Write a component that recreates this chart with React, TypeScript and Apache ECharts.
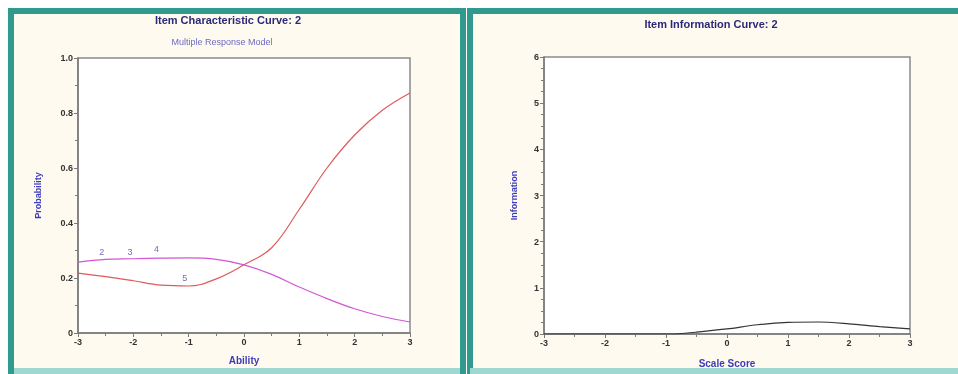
import React, { useEffect, useRef } from "react";
import * as echarts from "echarts";

const abilityX = [-3, -2.5, -2, -1.5, -1, -0.5, 0, 0.5, 1, 1.5, 2, 2.5, 3];
const redCurve = [0.218, 0.205, 0.19, 0.174, 0.171, 0.197, 0.248, 0.31, 0.45, 0.6, 0.72, 0.81, 0.873];
const magentaCurve = [0.258, 0.268, 0.27, 0.272, 0.273, 0.268, 0.248, 0.213, 0.167, 0.125, 0.088, 0.06, 0.04];
const curveLabels = [
  { name: "2", x: -2.57, y: 0.295 },
  { name: "3", x: -2.06, y: 0.295 },
  { name: "4", x: -1.58, y: 0.305 },
  { name: "5", x: -1.07, y: 0.2 },
];
const scoreX = [-3, -2.5, -2, -1.5, -1, -0.8, -0.5, 0, 0.5, 1, 1.5, 2, 2.5, 3];
const infoCurve = [0, 0, 0, 0, 0, 0.005, 0.04, 0.11, 0.2, 0.25, 0.26, 0.22, 0.16, 0.11];

const TEAL = "#2f9a8d";
const CREAM = "#fffaf0";
const AXIS = "#7a7a7a";
const LABEL = "#333333";

export default function App() {
  const ref = useRef<HTMLDivElement>(null);
  useEffect(() => {
    if (!ref.current) return;
    const chart = echarts.init(ref.current, null, { renderer: "svg" });
    const xAxisCommon = (gridIndex: number) => ({
      type: "value" as const,
      gridIndex,
      min: -3,
      max: 3,
      interval: 1,
      axisLine: { show: true, onZero: false, lineStyle: { color: AXIS, width: 1.5 } },
      axisTick: { show: true, length: 4, lineStyle: { color: AXIS } },
      minorTick: { show: true, splitNumber: 2, length: 3, lineStyle: { color: AXIS } },
      splitLine: { show: false },
      axisLabel: { color: LABEL, fontSize: 9, fontWeight: "bold" as const, fontFamily: "Liberation Sans", margin: 4 },
    });
    const option: any = {
      animation: false,
      graphic: [
        { type: "rect", z: -10, shape: { x: 11, y: 11, width: 452, height: 360 }, style: { fill: CREAM, stroke: TEAL, lineWidth: 6 } },
        { type: "rect", z: -10, shape: { x: 470, y: 11, width: 500, height: 360 }, style: { fill: CREAM, stroke: TEAL, lineWidth: 6 } },
        { type: "rect", z: -9, shape: { x: 470, y: 368, width: 500, height: 6 }, style: { fill: "#9fd8d0" } },
        { type: "rect", z: -9, shape: { x: 14, y: 368, width: 446, height: 6 }, style: { fill: "#9fd8d0" } },
        { type: "text", x: 228, y: 20, style: { text: "Item Characteristic Curve: 2", fill: "#2a2a78", font: "bold 11px 'Liberation Sans'", textAlign: "center", textVerticalAlign: "middle" } },
        { type: "text", x: 222, y: 42, style: { text: "Multiple Response Model", fill: "#6a6ac4", font: "9px 'Liberation Sans'", textAlign: "center", textVerticalAlign: "middle" } },
        { type: "text", x: 711, y: 24, style: { text: "Item Information Curve: 2", fill: "#2a2a78", font: "bold 11px 'Liberation Sans'", textAlign: "center", textVerticalAlign: "middle" } },
      ],
      grid: [
        { left: 78, top: 58, width: 332, height: 275, show: true, backgroundColor: "#ffffff", borderColor: "#8a8a8a", borderWidth: 1.5 },
        { left: 544, top: 57, width: 366, height: 277, show: true, backgroundColor: "#ffffff", borderColor: "#8a8a8a", borderWidth: 1.5 },
      ],
      xAxis: [
        { ...xAxisCommon(0), name: "Ability", nameLocation: "middle", nameGap: 22, nameTextStyle: { color: "#3c3cb8", fontWeight: "bold", fontSize: 10, fontFamily: "Liberation Sans" } },
        { ...xAxisCommon(1), name: "Scale Score", nameLocation: "middle", nameGap: 24, nameTextStyle: { color: "#3c3cb8", fontWeight: "bold", fontSize: 10, fontFamily: "Liberation Sans" } },
      ],
      yAxis: [
        {
          type: "value", gridIndex: 0, min: 0, max: 1, interval: 0.2,
          name: "Probability", nameLocation: "middle", nameGap: 36,
          nameTextStyle: { color: "#3c3cb8", fontWeight: "bold", fontSize: 9, fontFamily: "Liberation Sans" },
          axisLine: { show: true, onZero: false, lineStyle: { color: AXIS, width: 1.5 } },
          axisTick: { show: true, length: 4, lineStyle: { color: AXIS } },
          minorTick: { show: true, splitNumber: 2, length: 3, lineStyle: { color: AXIS } },
          splitLine: { show: false },
          axisLabel: { color: LABEL, fontSize: 9, fontWeight: "bold", fontFamily: "Liberation Sans", margin: 5, formatter: (v: number) => (v === 0 ? "0" : v.toFixed(1)) },
        },
        {
          type: "value", gridIndex: 1, min: 0, max: 6, interval: 1,
          name: "Information", nameLocation: "middle", nameGap: 26,
          nameTextStyle: { color: "#3c3cb8", fontWeight: "bold", fontSize: 9, fontFamily: "Liberation Sans" },
          axisLine: { show: true, onZero: false, lineStyle: { color: AXIS, width: 1.5 } },
          axisTick: { show: true, length: 4, lineStyle: { color: AXIS } },
          minorTick: { show: true, splitNumber: 4, length: 3, lineStyle: { color: AXIS } },
          splitLine: { show: false },
          axisLabel: { color: LABEL, fontSize: 9, fontWeight: "bold", fontFamily: "Liberation Sans", margin: 5 },
        },
      ],
      series: [
        {
          type: "line", xAxisIndex: 0, yAxisIndex: 0, smooth: 0.4, symbol: "none",
          lineStyle: { color: "#e05a5a", width: 1.2 },
          data: abilityX.map((x, i) => [x, redCurve[i]]),
        },
        {
          type: "line", xAxisIndex: 0, yAxisIndex: 0, smooth: 0.4, symbol: "none",
          lineStyle: { color: "#d455d4", width: 1.2 },
          data: abilityX.map((x, i) => [x, magentaCurve[i]]),
        },
        {
          type: "scatter", xAxisIndex: 0, yAxisIndex: 0, symbolSize: 0,
          label: { show: true, position: "inside", formatter: (p: any) => p.name, color: "#4a4a9a", fontSize: 9, fontFamily: "Liberation Sans" },
          data: curveLabels.map((l) => ({ name: l.name, value: [l.x, l.y] })),
        },
        {
          type: "line", xAxisIndex: 1, yAxisIndex: 1, smooth: 0.3, symbol: "none",
          lineStyle: { color: "#333333", width: 1.2 },
          data: scoreX.map((x, i) => [x, infoCurve[i]]),
        },
      ],
    };
    chart.setOption(option);
    return () => chart.dispose();
  }, []);
  return <div ref={ref} style={{ position: "fixed", left: 0, top: 0, width: 958, height: 374 }} />;
}
